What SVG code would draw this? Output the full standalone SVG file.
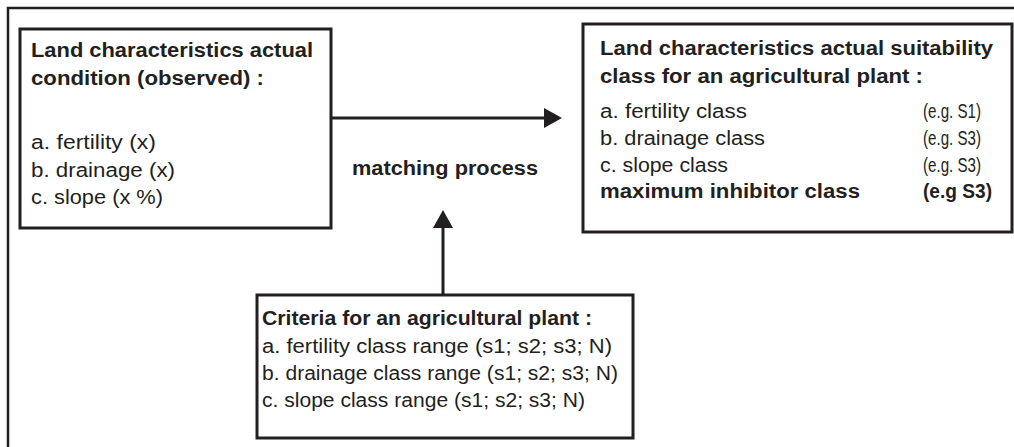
<svg xmlns="http://www.w3.org/2000/svg" width="1014" height="447" viewBox="0 0 1014 447">
  <style>
    .frame { fill: none; stroke: #231f20; stroke-width: 2.5; }
    .box { fill: #ffffff; stroke: #231f20; stroke-width: 3; }
    .conn { fill: none; stroke: #231f20; stroke-width: 3; }
    text { font-family: "Liberation Sans", Arial, sans-serif; font-size: 20px; fill: #231f20; }
    .b { font-weight: bold; }
  </style>
  <defs>
    <marker id="arrow" markerUnits="userSpaceOnUse" markerWidth="18" markerHeight="20" viewBox="0 0 18 20" refX="6" refY="10" orient="auto">
      <path d="M0,0 L18,10 L0,20 Z" fill="#231f20"/>
    </marker>
  </defs>
  <rect width="1014" height="447" fill="#ffffff"/>
  <rect class="frame" x="8" y="8" width="1030" height="470"/>

  <g id="connectors">
    <line class="conn" x1="331" y1="118" x2="550" y2="118" marker-end="url(#arrow)"/>
    <line class="conn" x1="443" y1="295" x2="443" y2="222" marker-end="url(#arrow)"/>
  </g>

  <g id="observed">
    <rect class="box" x="20" y="29" width="311" height="199"/>
    <text class="b" x="31" y="57" textLength="282" lengthAdjust="spacingAndGlyphs">Land characteristics actual</text>
    <text class="b" x="31" y="85" textLength="233" lengthAdjust="spacingAndGlyphs">condition (observed) :</text>
    <text x="31" y="149" textLength="125" lengthAdjust="spacingAndGlyphs">a.  fertility (x)</text>
    <text x="31" y="177" textLength="144" lengthAdjust="spacingAndGlyphs">b.  drainage (x)</text>
    <text x="31" y="204" textLength="132" lengthAdjust="spacingAndGlyphs">c.  slope (x %)</text>
  </g>

  <g id="matching">
    <text class="b" x="352" y="175" textLength="186" lengthAdjust="spacingAndGlyphs">matching process</text>
  </g>

  <g id="suitability">
    <rect class="box" x="583" y="24" width="429" height="208"/>
    <text class="b" x="600" y="55" textLength="393" lengthAdjust="spacingAndGlyphs">Land characteristics actual suitability</text>
    <text class="b" x="600" y="83" textLength="323" lengthAdjust="spacingAndGlyphs">class  for an agricultural plant :</text>
    <text x="600" y="118" textLength="147" lengthAdjust="spacingAndGlyphs">a.  fertility class</text>
    <text x="600" y="145" textLength="165" lengthAdjust="spacingAndGlyphs">b.  drainage class</text>
    <text x="600" y="172" textLength="128" lengthAdjust="spacingAndGlyphs">c.  slope class</text>
    <text class="b" x="600" y="198" textLength="260" lengthAdjust="spacingAndGlyphs">maximum inhibitor class</text>
    <text x="923" y="118" textLength="58" lengthAdjust="spacingAndGlyphs">(e.g. S1)</text>
    <text x="923" y="145" textLength="58" lengthAdjust="spacingAndGlyphs">(e.g. S3)</text>
    <text x="923" y="172" textLength="58" lengthAdjust="spacingAndGlyphs">(e.g. S3)</text>
    <text class="b" x="923" y="198" textLength="69" lengthAdjust="spacingAndGlyphs">(e.g  S3)</text>
  </g>

  <g id="criteria">
    <rect class="box" x="257" y="295" width="376" height="143"/>
    <text class="b" x="262" y="325" textLength="330" lengthAdjust="spacingAndGlyphs">Criteria for an agricultural plant :</text>
    <text x="262" y="353" textLength="350" lengthAdjust="spacingAndGlyphs">a.  fertility class range (s1; s2; s3; N)</text>
    <text x="262" y="380" textLength="356" lengthAdjust="spacingAndGlyphs">b.  drainage class range (s1; s2; s3; N)</text>
    <text x="262" y="407" textLength="323" lengthAdjust="spacingAndGlyphs">c.  slope class range (s1; s2; s3; N)</text>
  </g>
</svg>
